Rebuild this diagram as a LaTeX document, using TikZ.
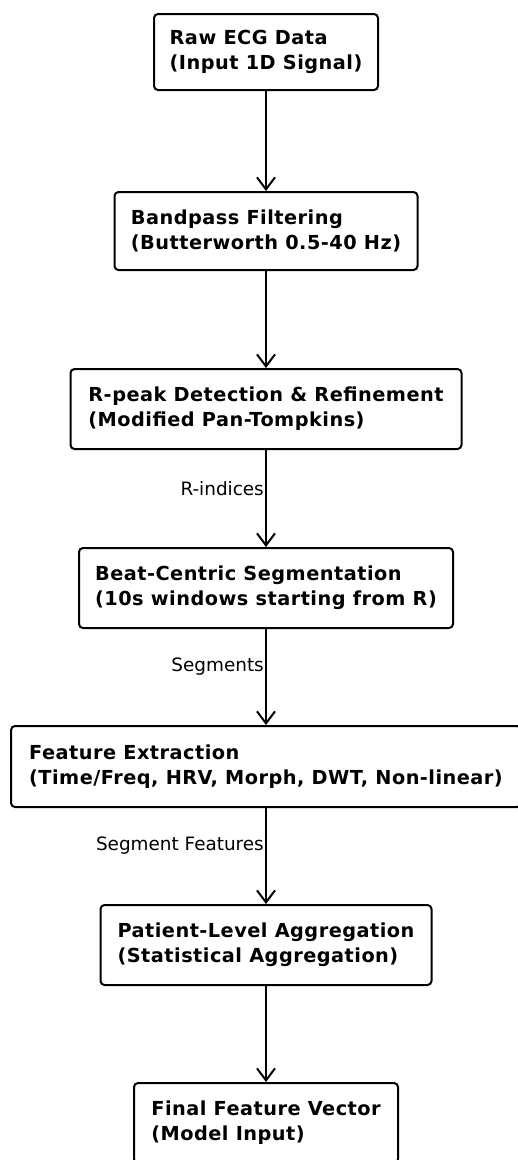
\documentclass[tikz,border=0pt]{standalone}
\usepackage{fontspec}
\setmainfont{DejaVu Sans}
\newfontfamily\boxfont[LetterSpace=2.5]{DejaVu Sans Bold}
\usetikzlibrary{arrows.meta}
\tikzset{
  stepbox/.style={draw=black, line width=2pt, rounded corners=4pt, fill=white,
    inner sep=0pt, align=left, font=\fontsize{19.3}{25}\boxfont},
  flow/.style={draw=black, line width=1.6pt, -{Straight Barb[length=12pt, width=18pt, line width=2pt]}},
  elabel/.style={anchor=east, inner sep=1pt, font=\fontsize{18.4}{22}\selectfont}
}
\begin{document}
\begin{tikzpicture}[x=1pt,y=1pt]
\useasboundingbox (0,0) rectangle (518,-1160);
\clip (0,0) rectangle (518,-1160);
% boxes: (cx, -cy), width, height
\node[stepbox, minimum width=224pt, minimum height=76pt] (raw) at (266,-52)
  {Raw ECG Data\\(Input 1D Signal)};
\node[stepbox, minimum width=303pt, minimum height=78pt] (band) at (266,-231)
  {Bandpass Filtering\\(Butterworth 0.5-40 Hz)};
\node[stepbox, minimum width=391pt, minimum height=80pt] (rpeak) at (266,-409)
  {R-peak Detection \& Refinement\\(Modified Pan-Tompkins)};
\node[stepbox, minimum width=374pt, minimum height=80pt] (seg) at (266,-588)
  {Beat-Centric Segmentation\\(10s windows starting from R)};
\node[stepbox, minimum width=510pt, minimum height=81pt] (feat) at (266,-766.5)
  {Feature Extraction\\(Time/Freq, HRV, Morph, DWT, Non-linear)};
\node[stepbox, minimum width=331pt, minimum height=80pt] (agg) at (266,-945)
  {Patient-Level Aggregation\\(Statistical Aggregation)};
\node[stepbox, minimum width=264pt, minimum height=80pt] (final) at (266,-1123)
  {Final Feature Vector\\(Model Input)};
% connectors
\draw[flow] (raw.south) -- (band.north);
\draw[flow] (band.south) -- (rpeak.north);
\draw[flow] (rpeak.south) -- (seg.north);
\draw[flow] (seg.south) -- (feat.north);
\draw[flow] (feat.south) -- (agg.north);
\draw[flow] (agg.south) -- (final.north);
% edge labels
\node[elabel] (l1) at (265,-489) {R-indices};
\node[elabel] (l2) at (265,-667) {Segments};
\node[elabel] (l3) at (265,-846) {Segment Features};
\end{tikzpicture}
\end{document}
